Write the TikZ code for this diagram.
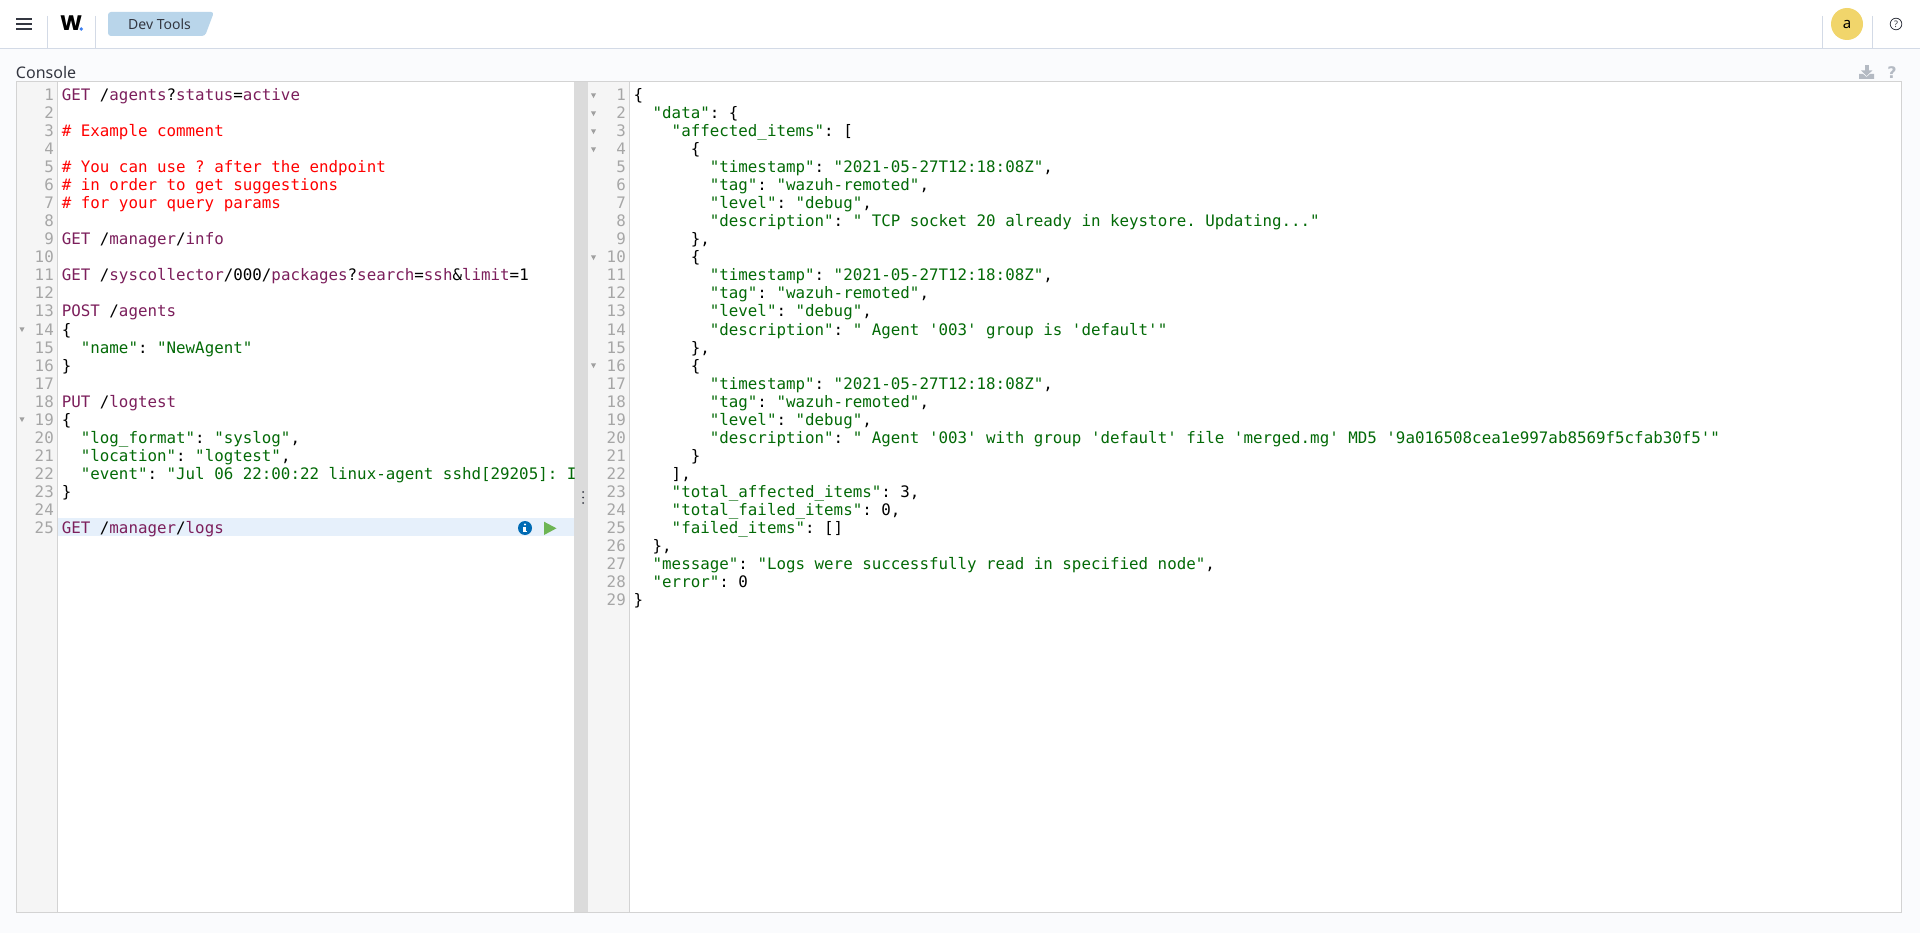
\documentclass[tikz,border=0pt]{standalone}
\usepackage{fontspec}
\setmainfont{Noto Sans}
\newfontfamily\codefont{DejaVu Sans Mono}
\newfontfamily\logofont{Poppins}[Scale=1]
\newfontfamily\symfont{DejaVu Sans}
\definecolor{pagebg}{HTML}{FAFBFD}
\definecolor{hline}{HTML}{D3DAE6}
\definecolor{boxline}{HTML}{D3D3D3}
\definecolor{gutterbg}{HTML}{F5F5F5}
\definecolor{splitbg}{HTML}{DBDBDB}
\definecolor{rowbg}{HTML}{E6F0FB}
\definecolor{tabbg}{HTML}{B9D5EA}
\definecolor{uidark}{HTML}{343741}
\definecolor{avatar}{HTML}{F1D56B}
\definecolor{muted}{HTML}{B4BAC3}
\definecolor{infoblue}{HTML}{006BB4}
\definecolor{playgreen}{HTML}{6DB554}
\definecolor{logodot}{HTML}{3D7FF0}
\definecolor{kw}{HTML}{7C1F5C}
\definecolor{strg}{HTML}{036A07}
\definecolor{cmt}{HTML}{FF0000}
\definecolor{numgray}{HTML}{A6A6A6}
\definecolor{foldgray}{HTML}{A0A0A0}
\newcommand\Kw[1]{\textcolor{kw}{#1}}
\newcommand\St[1]{\textcolor{strg}{#1}}
\newcommand\Cm[1]{\textcolor{cmt}{#1}}
\tikzset{
  code/.style={anchor=base west,inner sep=0pt,outer sep=0pt,text=black,font=\codefont\fontsize{15.83}{18}\selectfont\frenchspacing},
  num/.style={anchor=base east,inner sep=0pt,outer sep=0pt,text=numgray,font=\codefont\fontsize{15.83}{18}\selectfont},
  ui/.style={inner sep=0pt,outer sep=0pt,text=uidark},
  sep/.style={draw=hline,line width=1pt},
  fold/.style={fill=foldgray,draw=none},
}
\newcommand\LL[3]{\node[code,name=l#1] at ({61.8+9.53*#2},{101+18*(#1-1)}) {#3};}
\newcommand\RL[3]{\node[code,name=r#1] at ({633.6+9.53*#2},{101+18*(#1-1)}) {#3};}
\newcommand\Fold[2]{\fill[fold] ({#1-2.6},{#2-2.2}) -- ({#1+2.6},{#2-2.2}) -- (#1,{#2+2.6}) -- cycle;}
\begin{document}
\begin{tikzpicture}[x=1pt,y=-1pt]
\useasboundingbox (0,0) rectangle (1920,933);
\fill[pagebg] (0,0) rectangle (1920,933);
% header
\fill[white] (0,0) rectangle (1920,48);
\draw[sep] (0,48.5) -- (1920,48.5);
\draw[sep] (47.5,16) -- (47.5,48);
\draw[sep] (95.5,16) -- (95.5,48);
\draw[sep] (1822.5,16) -- (1822.5,48);
\draw[sep] (1872.5,16) -- (1872.5,48);
\fill[uidark] (16,18) rectangle (32,19.6);
\fill[uidark] (16,23.2) rectangle (32,24.8);
\fill[uidark] (16,28.4) rectangle (32,30);
\node[inner sep=0pt,anchor=base west,text=black,font=\logofont\bfseries\fontsize{21}{21}\selectfont] (logo) at (60,31) {W};
\fill[logodot] (81.3,29) circle (1.9);
\fill[tabbg,rounded corners=3pt] (108,12) -- (214,12) -- (205,36) -- (108,36) -- cycle;
\node[ui,font=\fontsize{14}{14}\selectfont,anchor=base] (tab) at (159.5,30) {Dev Tools};
\fill[avatar] (1847,24) circle (16);
\node[inner sep=0pt,text=black,font=\fontsize{15}{15}\selectfont,anchor=base] (av) at (1847,29) {a};
\draw[uidark,line width=0.8pt] (1896,24) circle (5.8);
\node[inner sep=0pt,text=uidark,font=\fontsize{9}{9}\selectfont,anchor=base] (help) at (1896,27.3) {?};
% console title
\node[ui,font=\fontsize{16}{16}\selectfont,anchor=base west] (console) at (16,78.5) {Console};
% download icon
\fill[muted] (1864.5,65) rectangle (1868.8,71);
\fill[muted] (1861,70.5) -- (1872.3,70.5) -- (1866.6,76) -- cycle;
\fill[muted] (1859,74) -- (1863,74) -- (1866.6,77) -- (1870,74) -- (1874,74) -- (1874,79) -- (1859,79) -- cycle;
\node[inner sep=0pt,text=muted,font=\symfont\bfseries\fontsize{16}{16}\selectfont,anchor=base] (q) at (1892,79) {?};
% panels
\fill[white] (16.5,81.5) rectangle (1901.5,912.5);
\fill[gutterbg] (16.5,81.5) rectangle (57.5,912.5);
\fill[gutterbg] (587.5,81.5) rectangle (629.5,912.5);
\fill[splitbg] (574,81.5) rectangle (587.5,912.5);
\draw[boxline,line width=1pt] (57.5,81.5) -- (57.5,912.5);
\draw[boxline,line width=1pt] (629.5,81.5) -- (629.5,912.5);
\draw[boxline,line width=1pt] (16.5,81.5) rectangle (1901.5,912.5);
\fill[uidark] (583,492) circle (1);
\fill[uidark] (583,497.5) circle (1);
\fill[uidark] (583,503) circle (1);
\fill[rowbg] (58,518) rectangle (574,536);
% line numbers
\foreach \i in {1,...,25}{\node[num,name=ln\i] at (53.8,{101+18*(\i-1)}) {\i};}
\foreach \i in {1,...,29}{\node[num,name=rn\i] at (625.8,{101+18*(\i-1)}) {\i};}
\Fold{22}{329.5}\Fold{22}{419.5}
\Fold{593.5}{95.5}\Fold{593.5}{113.5}\Fold{593.5}{131.5}\Fold{593.5}{149.5}\Fold{593.5}{257.5}\Fold{593.5}{365.5}
% left code
\begin{scope}
\clip (58,82) rectangle (574,912);
\LL{1}{0}{\Kw{GET} /\Kw{agents}?\Kw{status}=\Kw{active}}
\LL{3}{0}{\Cm{\# Example comment}}
\LL{5}{0}{\Cm{\# You can use ? after the endpoint}}
\LL{6}{0}{\Cm{\# in order to get suggestions}}
\LL{7}{0}{\Cm{\# for your query params}}
\LL{9}{0}{\Kw{GET} /\Kw{manager}/\Kw{info}}
\LL{11}{0}{\Kw{GET} /\Kw{syscollector}/000/\Kw{packages}?\Kw{search}=\Kw{ssh}\&\Kw{limit}=1}
\LL{13}{0}{\Kw{POST} /\Kw{agents}}
\LL{14}{0}{\{}
\LL{15}{2}{\St{"name"}: \St{"NewAgent"}}
\LL{16}{0}{\}}
\LL{18}{0}{\Kw{PUT} /\Kw{logtest}}
\LL{19}{0}{\{}
\LL{20}{2}{\St{"log\_format"}: \St{"syslog"},}
\LL{21}{2}{\St{"location"}: \St{"logtest"},}
\LL{22}{2}{\St{"event"}: \St{"Jul 06 22:00:22 linux-agent sshd[29205]: I}}
\LL{23}{0}{\}}
\LL{25}{0}{\Kw{GET} /\Kw{manager}/\Kw{logs}}
\end{scope}
% run icons
\fill[infoblue] (525,528) circle (7);
\fill[white] (525,524.5) circle (1.2);
\fill[white] (523,526.7) rectangle (526,532);
\fill[white] (522.6,531) rectangle (527.4,532.4);
\fill[playgreen] (544,521.7) -- (556.5,528.3) -- (544,535) -- cycle;
% right code
\RL{1}{0}{\{}
\RL{2}{2}{\St{"data"}: \{}
\RL{3}{4}{\St{"affected\_items"}: [}
\RL{4}{6}{\{}
\RL{5}{8}{\St{"timestamp"}: \St{"2021-05-27T12:18:08Z"},}
\RL{6}{8}{\St{"tag"}: \St{"wazuh-remoted"},}
\RL{7}{8}{\St{"level"}: \St{"debug"},}
\RL{8}{8}{\St{"description"}: \St{" TCP socket 20 already in keystore. Updating..."}}
\RL{9}{6}{\},}
\RL{10}{6}{\{}
\RL{11}{8}{\St{"timestamp"}: \St{"2021-05-27T12:18:08Z"},}
\RL{12}{8}{\St{"tag"}: \St{"wazuh-remoted"},}
\RL{13}{8}{\St{"level"}: \St{"debug"},}
\RL{14}{8}{\St{"description"}: \St{" Agent '003' group is 'default'"}}
\RL{15}{6}{\},}
\RL{16}{6}{\{}
\RL{17}{8}{\St{"timestamp"}: \St{"2021-05-27T12:18:08Z"},}
\RL{18}{8}{\St{"tag"}: \St{"wazuh-remoted"},}
\RL{19}{8}{\St{"level"}: \St{"debug"},}
\RL{20}{8}{\St{"description"}: \St{" Agent '003' with group 'default' file 'merged.mg' MD5 '9a016508cea1e997ab8569f5cfab30f5'"}}
\RL{21}{6}{\}}
\RL{22}{4}{],}
\RL{23}{4}{\St{"total\_affected\_items"}: 3,}
\RL{24}{4}{\St{"total\_failed\_items"}: 0,}
\RL{25}{4}{\St{"failed\_items"}: []}
\RL{26}{2}{\},}
\RL{27}{2}{\St{"message"}: \St{"Logs were successfully read in specified node"},}
\RL{28}{2}{\St{"error"}: 0}
\RL{29}{0}{\}}
\end{tikzpicture}
\end{document}
